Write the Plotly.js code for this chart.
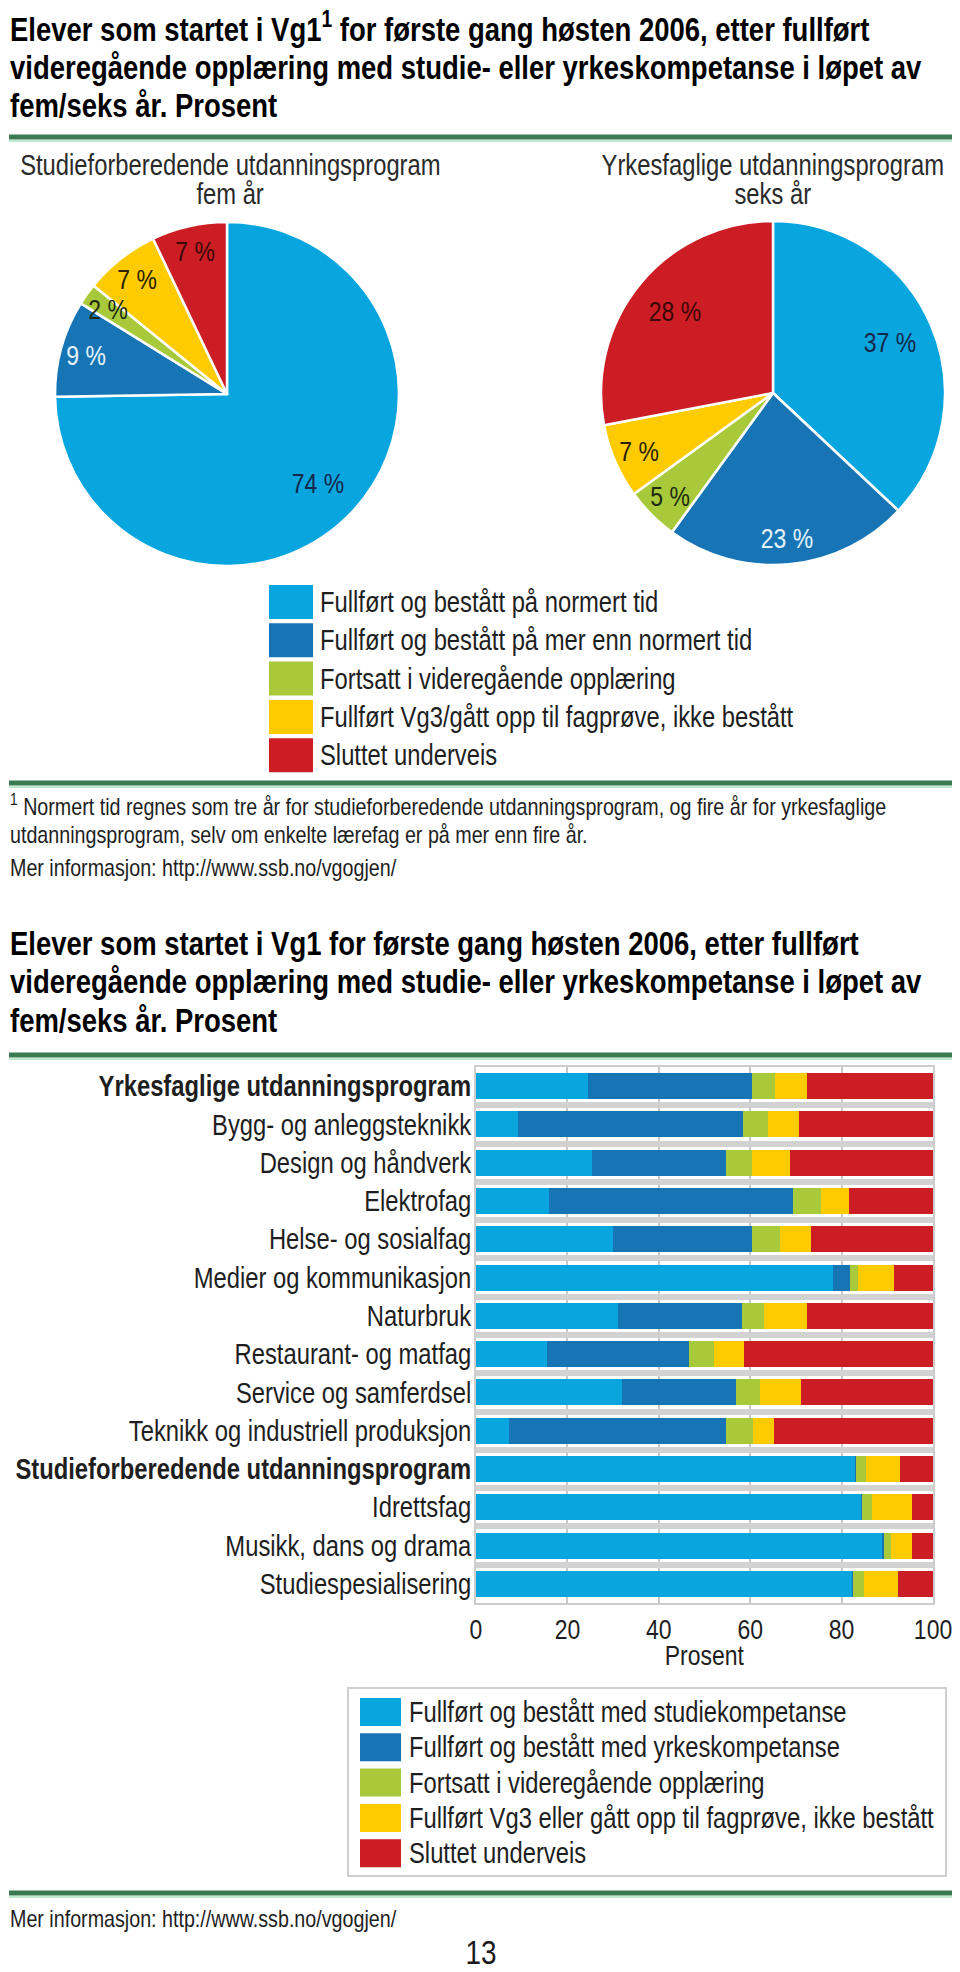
<!DOCTYPE html>
<html>
<head>
<meta charset="utf-8">
<script src="https://cdn.plot.ly/plotly-3.0.1.min.js"></script>
<style>html,body{margin:0;padding:0;background:#fff;}#chart{width:960px;height:1972px;}</style>
</head>
<body>
<div id="chart"></div>
<script>
// ---------- DATA ----------
const pieCategories = ['Fullført og bestått på normert tid', 'Fullført og bestått på mer enn normert tid', 'Fortsatt i videregående opplæring', 'Fullført Vg3/gått opp til fagprøve, ikke bestått', 'Sluttet underveis'];
const pieStudieValues = [74, 9, 2, 7, 7];
const pieYrkesValues = [37, 23, 5, 7, 28];
const pieTitleStudie = ['Studieforberedende utdanningsprogram', 'fem år'];
const pieTitleYrkes = ['Yrkesfaglige utdanningsprogram', 'seks år'];

const barCategories = ['<b>Yrkesfaglige utdanningsprogram</b>', 'Bygg- og anleggsteknikk', 'Design og håndverk', 'Elektrofag', 'Helse- og sosialfag', 'Medier og kommunikasjon', 'Naturbruk', 'Restaurant- og matfag', 'Service og samferdsel', 'Teknikk og industriell produksjon', '<b>Studieforberedende utdanningsprogram</b>', 'Idrettsfag', 'Musikk, dans og drama', 'Studiespesialisering'];
const barSeriesNames = ['Fullført og bestått med studiekompetanse', 'Fullført og bestått med yrkeskompetanse', 'Fortsatt i videregående opplæring', 'Fullført Vg3 eller gått opp til fagprøve, ikke bestått', 'Sluttet underveis'];
const studiekompetanse = [24.4, 9.1, 25.3, 15.9, 29.9, 78.1, 31.0, 15.5, 32.0, 7.3, 82.9, 84.3, 88.8, 82.2];
const yrkeskompetanse = [35.9, 49.4, 29.5, 53.5, 30.6, 3.8, 27.3, 31.1, 24.9, 47.4, 0.2, 0.2, 0.4, 0.2];
const fortsatt = [5.2, 5.3, 5.5, 6.2, 6.0, 1.7, 4.8, 5.4, 5.3, 5.9, 2.3, 2.2, 1.5, 2.4];
const ikkeBestatt = [6.9, 6.9, 8.5, 6.0, 6.7, 7.8, 9.3, 6.6, 9.0, 4.7, 7.3, 8.8, 4.8, 7.5];
const sluttet = [27.6, 29.3, 31.2, 18.4, 26.8, 8.6, 27.6, 41.4, 28.8, 34.7, 7.3, 4.5, 4.5, 7.7];
const xTickValues = [0, 20, 40, 60, 80, 100];
const xAxisTitle = 'Prosent';

const title1Lines = ['Elever som startet i Vg1<sup>1</sup> for første gang høsten 2006, etter fullført', 'videregående opplæring med studie- eller yrkeskompetanse i løpet av', 'fem/seks år. Prosent'];
const title2Lines = ['Elever som startet i Vg1 for første gang høsten 2006, etter fullført', 'videregående opplæring med studie- eller yrkeskompetanse i løpet av', 'fem/seks år. Prosent'];
const footnoteLines = ['<sup>1</sup> Normert tid regnes som tre år for studieforberedende utdanningsprogram, og fire år for yrkesfaglige', 'utdanningsprogram, selv om enkelte lærefag er på mer enn fire år.', 'Mer informasjon: http://www.ssb.no/vgogjen/'];
const footerText = 'Mer informasjon: http://www.ssb.no/vgogjen/';
const pageNumber = '13';

// ---------- STYLE ----------
const colors = ['#08a5df', '#1775b6', '#a8c93a', '#fecb00', '#cc1d24'];
const pieTextColors = ['#13294b', '#e6f3fb', '#1e2a10', '#2a2200', '#3a0808'];
const FONT = "'Liberation Sans', Arial, sans-serif";
const SQUEEZE = 0.82; // narrow typeface look
const W = 960, H = 1972;
const px = x => x / W;
const py = y => 1 - y / H;

const PIE_R = 172;
const pieGeom = [{cx: 227, cy: 394}, {cx: 773, cy: 393}];

const traces = [];
[pieStudieValues, pieYrkesValues].forEach((vals, k) => {
  const g = pieGeom[k];
  traces.push({
    type: 'pie', values: vals, labels: pieCategories, sort: false, direction: 'clockwise', rotation: 0,
    domain: {x: [px(g.cx - PIE_R), px(g.cx + PIE_R)], y: [py(g.cy + PIE_R), py(g.cy - PIE_R)]},
    marker: {colors: colors, line: {color: '#ffffff', width: 2.5}},
    textinfo: 'none', hoverinfo: 'label+value', showlegend: false
  });
});
const barSeries = [studiekompetanse, yrkeskompetanse, fortsatt, ikkeBestatt, sluttet];
barSeries.forEach((vals, i) => {
  traces.push({
    type: 'bar', orientation: 'h', x: vals, y: barCategories, name: barSeriesNames[i],
    marker: {color: colors[i], line: {width: 0}}, showlegend: false, xaxis: 'x', yaxis: 'y'
  });
});

const annotations = [];
const shapes = [];
function txt(text, x, y, size, color, opts) {
  annotations.push(Object.assign({
    text: text, x: px(x), y: py(y), xref: 'paper', yref: 'paper', showarrow: false,
    xanchor: 'left', align: 'left', yanchor: 'middle', font: {family: FONT, size: size, color: color || '#1e1e1e'}
  }, opts || {}));
}
function rule(y) {
  shapes.push({type: 'line', xref: 'paper', yref: 'paper', x0: px(9), x1: px(952), y0: py(y), y1: py(y), line: {color: '#3b7b52', width: 5}});
  shapes.push({type: 'line', xref: 'paper', yref: 'paper', x0: px(9), x1: px(952), y0: py(y + 4), y1: py(y + 4), line: {color: '#bfe9cf', width: 2}});
}
// pie value labels placed along each slice's mid angle
function pieValueLabels(vals, g) {
  const total = vals.reduce((a, b) => a + b, 0);
  let cum = 0;
  vals.forEach((v, i) => {
    const mid = (cum + v / 2) / total * 2 * Math.PI;
    cum += v;
    const f = v >= 25 ? 0.74 : 0.85;
    txt(v + ' %', g.cx + PIE_R * f * Math.sin(mid), g.cy - PIE_R * f * Math.cos(mid), 28, pieTextColors[i], {xanchor: 'center', align: 'center'});
  });
}

// titles
[27, 67, 105].forEach((y, i) => txt('<b>' + title1Lines[i] + '</b>', 8, y, 33.5, '#000'));
rule(137);
// pies
txt(pieTitleStudie[0], 230, 165, 29, '#2a2a2a', {xanchor: 'center', align: 'center'});
txt(pieTitleStudie[1], 230, 194, 29, '#2a2a2a', {xanchor: 'center', align: 'center'});
txt(pieTitleYrkes[0], 773, 165, 29, '#2a2a2a', {xanchor: 'center', align: 'center'});
txt(pieTitleYrkes[1], 773, 194, 29, '#2a2a2a', {xanchor: 'center', align: 'center'});
pieValueLabels(pieStudieValues, pieGeom[0]);
pieValueLabels(pieYrkesValues, pieGeom[1]);
// legend 1
pieCategories.forEach((c, i) => {
  const yc = 602 + i * 38.3;
  shapes.push({type: 'rect', xref: 'paper', yref: 'paper', x0: px(269), x1: px(313), y0: py(yc + 17), y1: py(yc - 17), fillcolor: colors[i], line: {width: 0}});
  txt(c, 318, yc, 29);
});
rule(783);
// footnote
txt(footnoteLines[0], 8, 805, 24);
txt(footnoteLines[1], 8, 834, 24);
txt(footnoteLines[2], 8, 867, 24);
// title 2
[943, 982, 1020].forEach((y, i) => txt('<b>' + title2Lines[i] + '</b>', 8, y, 33.5, '#000'));
rule(1055);
// axis title
txt(xAxisTitle, 704, 1655, 28, '#1e1e1e', {xanchor: 'center', align: 'center'});
// legend 2
shapes.push({type: 'rect', xref: 'paper', yref: 'paper', x0: px(348), x1: px(946), y0: py(1876), y1: py(1688), fillcolor: 'rgba(0,0,0,0)', line: {color: '#cfcfcf', width: 2}});
barSeriesNames.forEach((c, i) => {
  const yc = 1712 + i * 35.3;
  shapes.push({type: 'rect', xref: 'paper', yref: 'paper', x0: px(360), x1: px(401), y0: py(yc + 14), y1: py(yc - 14), fillcolor: colors[i], line: {width: 0}});
  txt(c, 407, yc, 29);
});
rule(1893);
txt(footerText, 8, 1918, 24);
txt(pageNumber, 481, 1952, 34, '#1a1a1a', {xanchor: 'center', align: 'center'});

const layout = {
  width: W, height: H, margin: {l: 0, r: 0, t: 0, b: 0},
  paper_bgcolor: '#ffffff', plot_bgcolor: '#ffffff', showlegend: false,
  barmode: 'stack', bargap: 0.32,
  font: {family: FONT, color: '#1e1e1e'},
  xaxis: {
    domain: [px(476), px(933)], range: [0, 100], tickvals: xTickValues, ticks: '',
    showgrid: true, gridcolor: '#c8c8c8', gridwidth: 2, zeroline: false,
    showline: true, mirror: true, linecolor: '#cdcdcd', linewidth: 2,
    tickfont: {family: FONT, size: 28, color: '#1e1e1e'}, anchor: 'y'
  },
  yaxis: {
    domain: [py(1603), py(1067)], type: 'category', autorange: 'reversed', categoryorder: 'array', categoryarray: barCategories,
    tickson: 'boundaries', ticks: '', showgrid: true, gridcolor: '#d2d2d2', gridwidth: 6,
    showline: true, mirror: true, linecolor: '#cdcdcd', linewidth: 2, zeroline: false,
    tickfont: {family: FONT, size: 29, color: '#1e1e1e'}, ticklabelstandoff: -3, anchor: 'x'
  },
  annotations: annotations, shapes: shapes
};
Plotly.newPlot('chart', traces, layout, {staticPlot: true, displayModeBar: false}).then(gd => {
  // give every text a narrow (condensed) appearance
  gd.querySelectorAll('text').forEach(t => {
    if (!t.textContent.trim()) return;
    const len = t.getComputedTextLength();
    if (!len) return;
    t.setAttribute('textLength', (len * SQUEEZE).toFixed(2));
    t.setAttribute('lengthAdjust', 'spacingAndGlyphs');
  });
});
</script>
</body>
</html>
